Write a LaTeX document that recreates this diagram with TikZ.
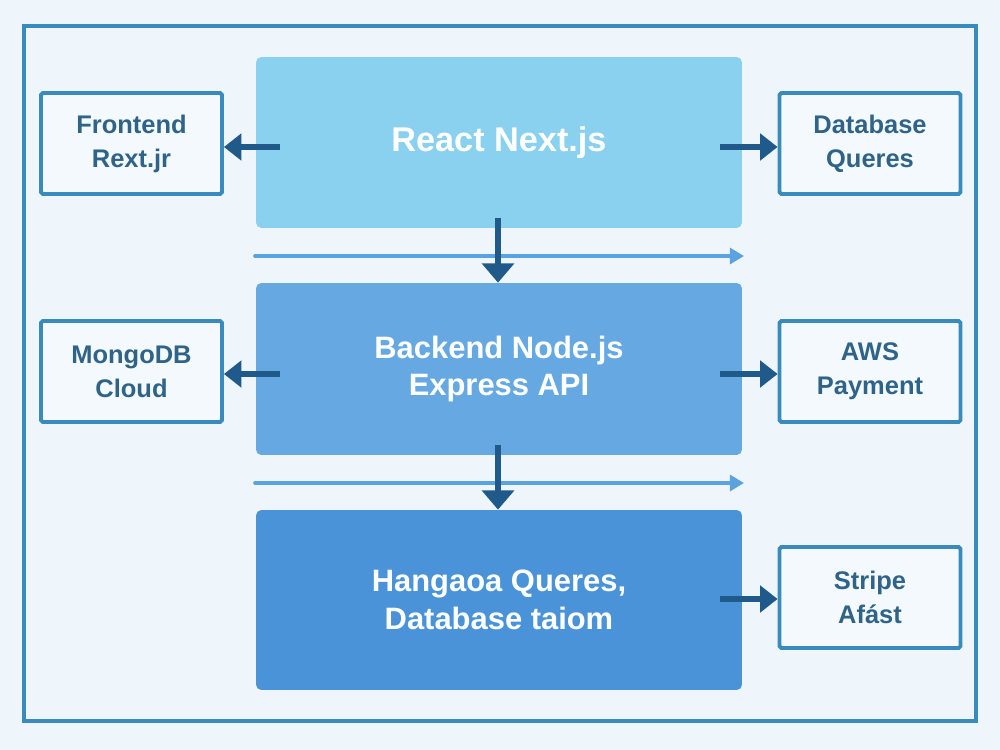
\documentclass[tikz,border=0pt]{standalone}
\usepackage{fontspec}
\setmainfont{Liberation Sans}
\usetikzlibrary{arrows.meta}
\definecolor{bgc}{HTML}{EEF6FB}
\definecolor{framec}{HTML}{3A8BBD}
\definecolor{sidefill}{HTML}{F3F9FD}
\definecolor{sidetext}{HTML}{2F6388}
\definecolor{boxa}{HTML}{8AD0EF}
\definecolor{boxb}{HTML}{66A9E2}
\definecolor{boxc}{HTML}{4A93D9}
\definecolor{darkarrow}{HTML}{1F5A8A}
\definecolor{thinarrow}{HTML}{5BA3E0}
\tikzset{
  mainbox/.style={rounded corners=3pt, minimum width=9.72cm, text=white, align=center,
    font=\bfseries\fontsize{17.6}{21.5}\selectfont, inner sep=0pt},
  sidebox/.style={draw=framec, line width=2.2pt, fill=sidefill, rounded corners=1pt,
    minimum width=3.62cm, minimum height=2.02cm, align=center, text=sidetext,
    font=\bfseries\fontsize{14.5}{19.3}\selectfont, inner sep=0pt},
  bigarrow/.style={draw=darkarrow, line width=3.6pt, -{Triangle[length=11pt,width=18pt]}},
  sidearrow/.style={draw=darkarrow, line width=3.2pt, -{Triangle[length=10pt,width=15pt]}},
  flowarrow/.style={draw=thinarrow, line width=2.1pt, line cap=round, -{Triangle[length=8pt,width=9pt]}}
}
\begin{document}
\begin{tikzpicture}[x=0.02cm,y=-0.02cm]
\fill[bgc] (0,0) rectangle (1000,750);
\useasboundingbox (0,0) rectangle (1000,750);
\draw[framec, line width=2.8pt] (24,26) rectangle (976,721);
% main boxes
\node[mainbox, fill=boxa, minimum height=3.42cm, font=\bfseries\fontsize{19.5}{21.5}\selectfont] (react) at (499,142.5) {React Next.js};
\node[mainbox, fill=boxb, minimum height=3.44cm] (back) at (499,369) {Backend Node.js\\Express API};
\node[mainbox, fill=boxc, minimum height=3.6cm] (hang) at (499,600) {Hangaoa Queres,\\Database taiom};
% side boxes
\node[sidebox] (front) at (131.5,143.5) {Frontend\\Rext.jr};
\node[sidebox] (mongo) at (131.5,371.5) {MongoDB\\Cloud};
\node[sidebox] (dbq) at (870,143.5) {Database\\Queres};
\node[sidebox] (aws) at (870,371.5) {AWS\\Payment};
\node[sidebox] (stripe) at (870,597.5) {Stripe\\Afást};
% side arrows
\coordinate (l1) at (280,147);
\coordinate (r1) at (720,147);
\coordinate (l2) at (280,374);
\coordinate (r2) at (720,374);
\coordinate (r3) at (720,599);
\draw[sidearrow] (l1) -- (front.east |- l1);
\draw[sidearrow] (r1) -- (dbq.west |- r1);
\draw[sidearrow] (l2) -- (mongo.east |- l2);
\draw[sidearrow] (r2) -- (aws.west |- r2);
\draw[sidearrow] (r3) -- (stripe.west |- r3);
% flow lines
\coordinate (f1s) at (255,256);
\coordinate (f1e) at (744,256);
\coordinate (f2s) at (255,483);
\coordinate (f2e) at (744,483);
\draw[flowarrow] (f1s) -- (f1e);
\draw[flowarrow] (f2s) -- (f2e);
% down arrows
\coordinate (d1) at (498,218);
\coordinate (d2) at (498,445);
\draw[bigarrow] (d1) -- (d1 |- back.north);
\draw[bigarrow] (d2) -- (d2 |- hang.north);
\end{tikzpicture}
\end{document}
